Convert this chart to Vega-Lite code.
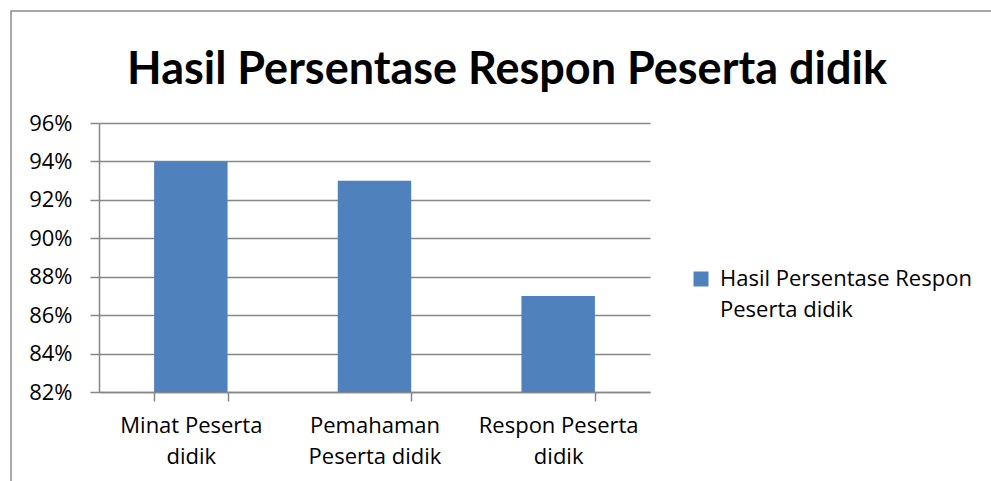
{
  "$schema": "https://vega.github.io/schema/vega-lite/v6.json",
  "autosize": {"type": "none"},
  "padding": {"left": 11, "top": 11, "right": -2, "bottom": -2},
  "width": 982,
  "height": 472,
  "background": "white",
  "title": {
    "text": "Hasil Persentase Respon Peserta didik",
    "font": "Lato",
    "fontSize": 45,
    "fontWeight": "bold",
    "color": "#000000",
    "anchor": "middle",
    "frame": "group",
    "baseline": "alphabetic",
    "offset": 0,
    "dx": 5,
    "dy": 118
  },
  "data": {
    "values": [
      {"kategori": "Minat Peserta didik", "nilai": 0.94, "seri": "Hasil Persentase Respon Peserta didik"},
      {"kategori": "Pemahaman Peserta didik", "nilai": 0.93, "seri": "Hasil Persentase Respon Peserta didik"},
      {"kategori": "Respon Peserta didik", "nilai": 0.87, "seri": "Hasil Persentase Respon Peserta didik"}
    ]
  },
  "mark": {"type": "bar"},
  "encoding": {
    "x": {
      "field": "kategori",
      "type": "nominal",
      "sort": null,
      "scale": {"range": [88, 639], "paddingInner": 0.6, "paddingOuter": 0.3},
      "axis": {
        "title": null,
        "labelAngle": 0,
        "tickBand": "extent",
        "tickSize": 9,
        "tickColor": "#868686",
        "tickWidth": 1.5,
        "domainColor": "#868686",
        "domainWidth": 1.5,
        "offset": -91,
        "grid": false,
        "labelFont": "Open Sans",
        "labelFontSize": 22,
        "labelColor": "#000000",
        "labelPadding": 14,
        "labelLineHeight": 31,
        "labelLimit": 0,
        "labelExpr": "indexof(['Minat Peserta didik', 'Pemahaman Peserta didik', 'Respon Peserta didik'], datum.value) < 0 ? '' : (datum.value == 'Pemahaman Peserta didik' ? ['Pemahaman', 'Peserta didik'] : [replace(datum.value, ' didik', ''), 'didik'])"
      }
    },
    "y": {
      "field": "nilai",
      "type": "quantitative",
      "scale": {"domain": [0.82, 0.96], "range": [381, 112], "nice": false, "zero": false},
      "axis": {
        "title": null,
        "values": [0.82, 0.84, 0.86, 0.88, 0.9, 0.92, 0.94, 0.96],
        "format": ".0%",
        "tickSize": 9,
        "tickColor": "#868686",
        "tickWidth": 1.5,
        "domainColor": "#868686",
        "domainWidth": 1.5,
        "offset": -88,
        "grid": true,
        "gridColor": "#868686",
        "gridWidth": 1.5,
        "labelFont": "Open Sans",
        "labelFontSize": 22,
        "labelColor": "#000000",
        "labelPadding": 18
      }
    },
    "y2": {"datum": 0.82},
    "color": {
      "field": "seri",
      "type": "nominal",
      "scale": {"range": ["#4F81BD"]},
      "legend": {
        "title": null,
        "orient": "none",
        "legendX": 679,
        "legendY": 257,
        "symbolType": "square",
        "symbolSize": 225,
        "symbolStrokeWidth": 0,
        "symbolOpacity": 1,
        "labelFont": "Open Sans",
        "labelFontSize": 22,
        "labelColor": "#000000",
        "labelOffset": 8,
        "labelLimit": 0,
        "labelExpr": "['Hasil Persentase Respon', 'Peserta didik']"
      }
    }
  },
  "config": {
    "view": {"stroke": "#8C8C8C", "strokeWidth": 1.5},
    "style": {"guide-label": {"lineHeight": 31}}
  }
}
